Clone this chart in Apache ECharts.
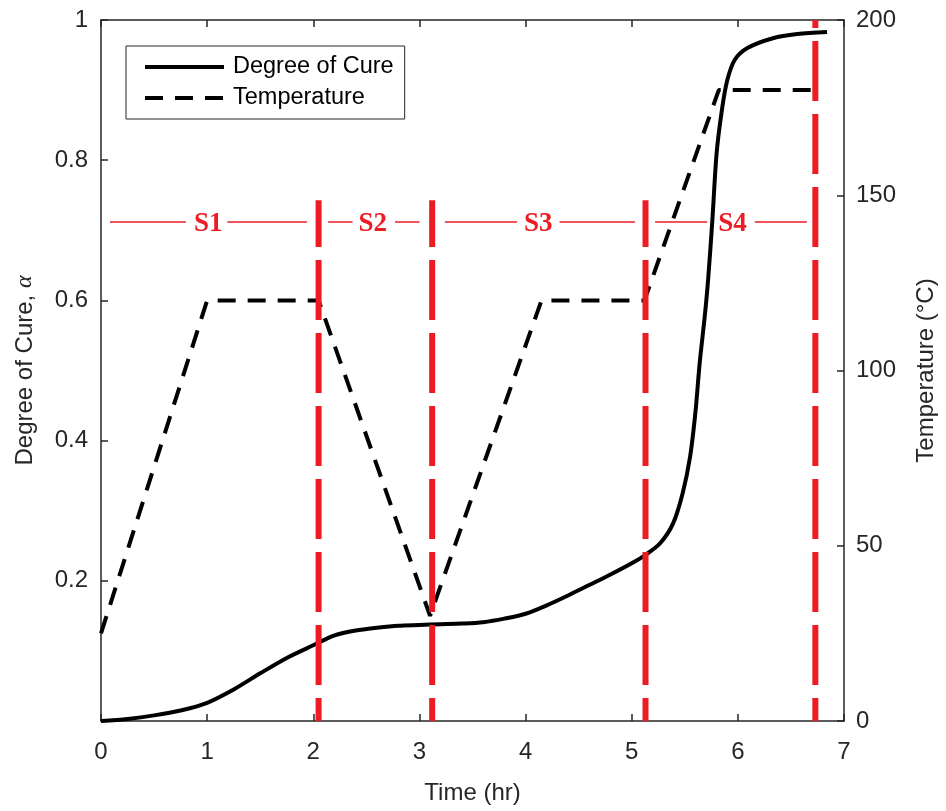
<!DOCTYPE html>
<html><head><meta charset="utf-8">
<script src="https://cdn.jsdelivr.net/npm/echarts/dist/echarts.min.js"></script>
<style>html,body{margin:0;padding:0;background:#fff}#c{width:946px;height:811px}</style>
</head><body><div id="c"></div>
<script>
// Degree of cure (left axis)
const cureTime  = [0, 0.25, 0.5, 0.75, 1.0, 1.25, 1.5, 1.75, 2.0, 2.2, 2.4, 2.6, 2.8, 3.0, 3.2, 3.4, 3.6, 3.8, 4.0, 4.2, 4.4, 4.6, 4.8, 5.0, 5.13, 5.27, 5.39, 5.48, 5.55, 5.6, 5.64, 5.69, 5.72, 5.76, 5.80, 5.85, 5.90, 5.97, 6.09, 6.33, 6.56, 6.84];
const cureValue = [0, 0.003, 0.008, 0.015, 0.026, 0.045, 0.068, 0.09, 0.108, 0.122, 0.129, 0.133, 0.136, 0.137, 0.138, 0.139, 0.141, 0.146, 0.153, 0.165, 0.179, 0.194, 0.209, 0.225, 0.237, 0.254, 0.282, 0.325, 0.377, 0.44, 0.51, 0.58, 0.63, 0.715, 0.81, 0.872, 0.914, 0.943, 0.96, 0.974, 0.98, 0.983];
// Temperature (right axis)
const tempTime  = [0, 1.0, 2.05, 3.1, 4.15, 5.12, 5.82, 6.73];
const tempValue = [25, 120, 120, 30, 120, 120, 180, 180];
// Stage boundaries (red dashed)
const stageBoundTime = [2.05, 3.12, 5.13, 6.73];
const stageBoundTop  = [0.743, 0.743, 0.743, 1.0];
// Stage labels and their connector segments
const stageNames     = ['S1', 'S2', 'S3', 'S4'];
const stageLabelTime = [1.01, 2.56, 4.12, 5.95];
const stageLevel     = 0.712;
const stageSegStart  = [0.085, 1.19, 2.14, 2.77, 3.24, 4.32, 5.22, 6.16];
const stageSegEnd    = [0.80, 1.94, 2.37, 3.00, 3.92, 5.03, 5.71, 6.65];
// Axes
const xMin = 0, xMax = 7, xStep = 1;
const yLeftMin = 0, yLeftMax = 1, yLeftStep = 0.2;
const yRightMin = 0, yRightMax = 200, yRightStep = 50;

const RED = '#ED1C24';
const TXT = '#262626';
const FONT = "'Liberation Sans', Arial, sans-serif";
const FS = 24;

const series = [];
series.push({
  name: 'Degree of Cure', type: 'line', yAxisIndex: 0, symbol: 'none',
  smooth: 0.3, z: 3,
  data: cureTime.map((t, i) => [t, cureValue[i]]),
  lineStyle: { color: '#000', width: 4 }, itemStyle: { color: '#000' }
});
series.push({
  name: 'Temperature', type: 'line', yAxisIndex: 1, symbol: 'none', z: 3,
  data: tempTime.map((t, i) => [t, tempValue[i]]),
  lineStyle: { color: '#000', width: 4, type: [18, 12] }, itemStyle: { color: '#000' }
});
stageBoundTime.forEach((t, i) => {
  series.push({
    type: 'line', yAxisIndex: 0, symbol: 'none', z: 4, silent: true,
    data: [[t, 0], [t, stageBoundTop[i]]],
    lineStyle: { color: RED, width: 6, type: [60, 13], dashOffset: 37, cap: 'butt' }
  });
});
stageSegStart.forEach((s, i) => {
  series.push({
    type: 'line', yAxisIndex: 0, symbol: 'none', z: 4, silent: true,
    data: [[s, stageLevel], [stageSegEnd[i], stageLevel]],
    lineStyle: { color: RED, width: 1.5 }
  });
});
series.push({
  type: 'scatter', yAxisIndex: 0, symbolSize: 1, z: 5, silent: true,
  itemStyle: { color: 'rgba(0,0,0,0)', opacity: 1 },
  data: stageNames.map((n, i) => [stageLabelTime[i], stageLevel, n]),
  label: {
    show: true, position: 'inside', offset: [0, 2], opacity: 1,
    formatter: p => p.data[2], textBorderWidth: 0,
    color: RED, fontSize: 27, fontWeight: 'bold', fontFamily: "'Liberation Serif', 'Times New Roman', serif"
  }
});

const axisLineStyle = { show: true, onZero: false, lineStyle: { color: TXT, width: 1.5 } };
const tickStyle = { show: true, inside: true, length: 7, lineStyle: { color: TXT, width: 1.5 } };

const chart = echarts.init(document.getElementById('c'), null, { renderer: 'canvas' });
chart.setOption({
  animation: false,
  backgroundColor: '#fff',
  grid: { left: 101, right: 102, top: 20, bottom: 90 },
  legend: {
    data: ['Degree of Cure', 'Temperature'],
    orient: 'vertical', left: 126, top: 46,
    padding: [9, 11, 9, 17], itemGap: 7,
    itemWidth: 79, itemHeight: 23,
    borderColor: TXT, borderWidth: 1, backgroundColor: '#fff',
    itemStyle: { opacity: 0 },
    lineStyle: { width: 4, type: 'inherit', color: '#000' },
    textStyle: { fontSize: 23.5, color: '#000', fontFamily: FONT, padding: [0, 0, 0, 4] }
  },
  xAxis: [{
    type: 'value', min: xMin, max: xMax, interval: xStep,
    name: 'Time (hr)', nameLocation: 'middle', nameGap: 60,
    nameTextStyle: { fontSize: FS, color: TXT, fontFamily: FONT },
    axisLine: axisLineStyle, axisTick: tickStyle,
    axisLabel: { fontSize: FS, color: TXT, fontFamily: FONT, margin: 19 },
    splitLine: { show: false }
  }, {
    type: 'value', min: xMin, max: xMax, interval: xStep, position: 'top',
    axisLine: axisLineStyle, axisTick: tickStyle,
    axisLabel: { show: false }, splitLine: { show: false }
  }],
  yAxis: [{
    type: 'value', min: yLeftMin, max: yLeftMax, interval: yLeftStep, position: 'left',
    name: 'Degree of Cure, {a|α}', nameLocation: 'middle', nameGap: 64, nameRotate: 90,
    nameTextStyle: { fontSize: FS, color: TXT, fontFamily: FONT,
      rich: { a: { fontSize: FS, color: TXT, fontStyle: 'italic', fontFamily: "'Liberation Serif', serif" } } },
    axisLine: axisLineStyle, axisTick: tickStyle,
    axisLabel: { fontSize: FS, color: TXT, fontFamily: FONT, margin: 13, showMinLabel: false },
    splitLine: { show: false }
  }, {
    type: 'value', min: yRightMin, max: yRightMax, interval: yRightStep, position: 'right',
    name: 'Temperature (°C)', nameLocation: 'middle', nameGap: 70, nameRotate: 90,
    nameTextStyle: { fontSize: FS, color: TXT, fontFamily: FONT },
    axisLine: axisLineStyle, axisTick: tickStyle,
    axisLabel: { fontSize: FS, color: TXT, fontFamily: FONT, margin: 12 },
    splitLine: { show: false }
  }],
  series: series
});
</script></body></html>
